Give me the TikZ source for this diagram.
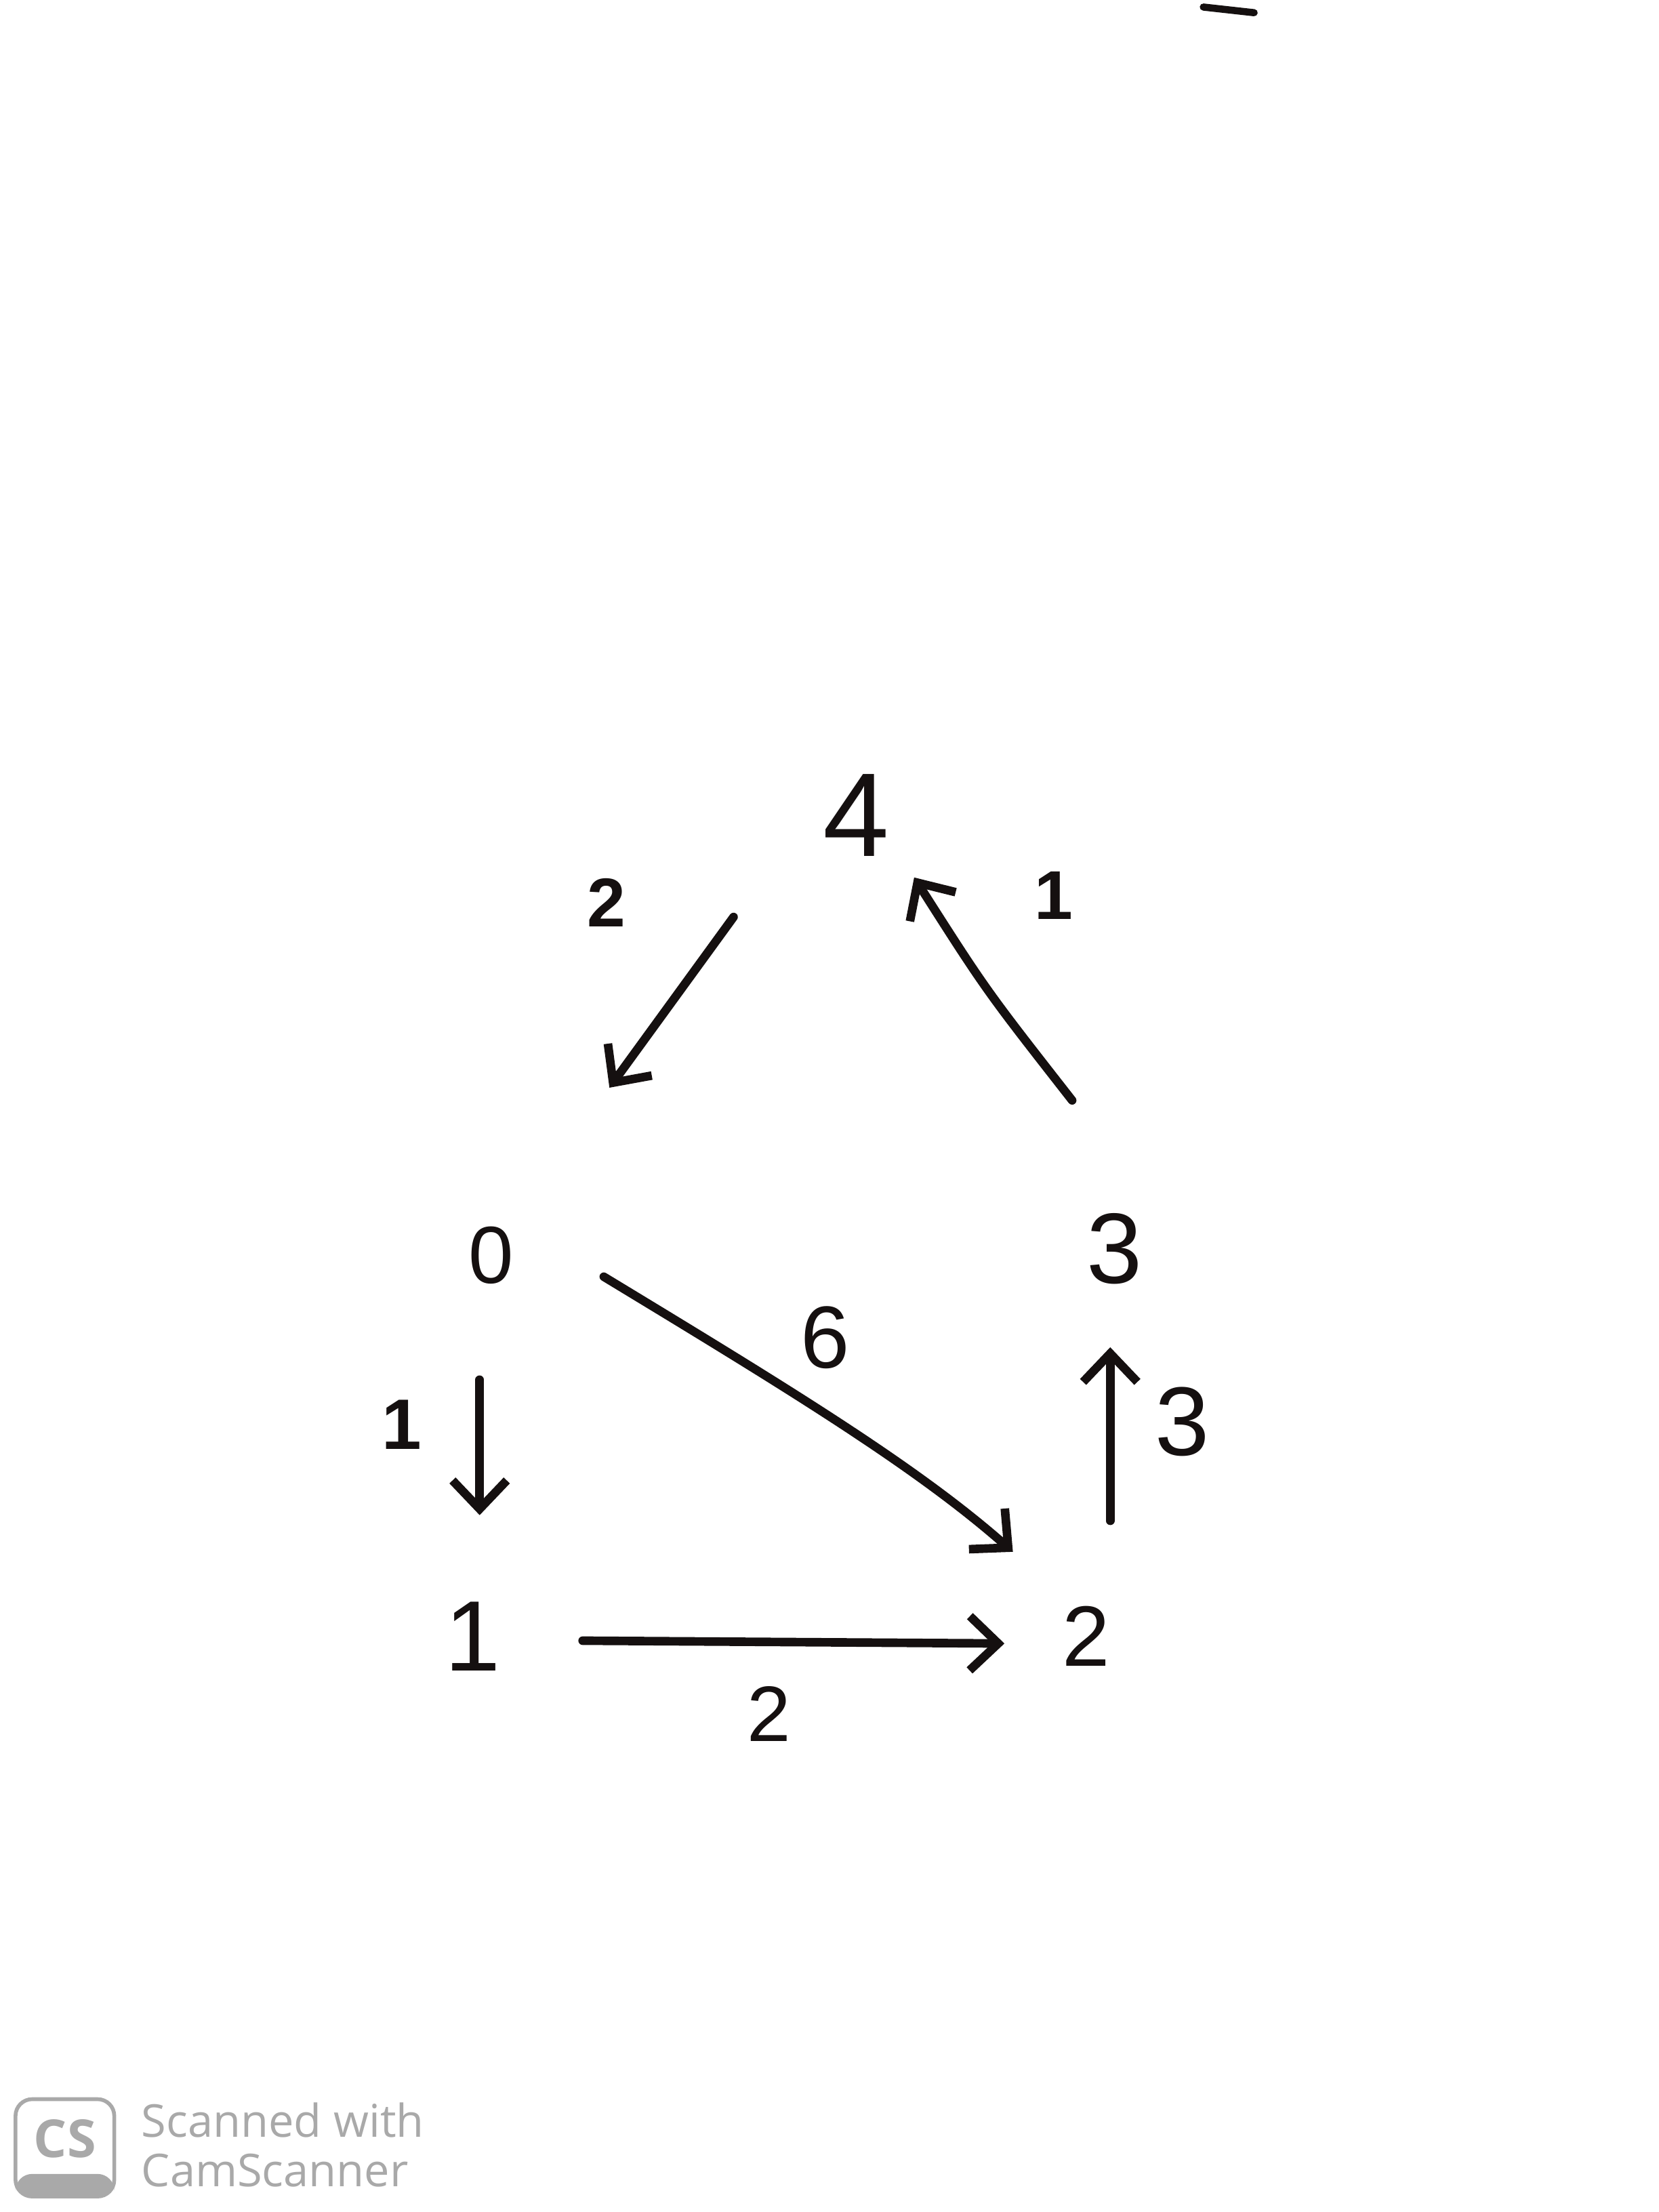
\documentclass[tikz,border=0pt]{standalone}
\usepackage{fontspec}
\setmainfont{Liberation Sans}
\newfontfamily\wmfont{Open Sans}
\usetikzlibrary{arrows.meta,calc}
\definecolor{wmgray}{HTML}{A9A9A9}
\definecolor{ink}{HTML}{151010}
\tikzset{
  vtx/.style={inner sep=0pt, text=ink, font=\fontsize{#1}{#1}\selectfont},
  wlab/.style={inner sep=0pt, text=ink, font=\fontsize{#1}{#1}\selectfont},
  wlabb/.style={inner sep=0pt, text=ink, font=\bfseries\fontsize{#1}{#1}\selectfont},
  arr/.style={draw=ink, line width=3.6pt, line cap=round, line join=round,
    -{Straight Barb[length=0.42cm,width=0.8cm,line width=3.6pt]}},
  wmtext/.style={inner sep=0pt, anchor=base west, text=wmgray, font=\wmfont\fontsize{19}{19}\selectfont}
}
\begin{document}
\begin{tikzpicture}[x=0.020816cm,y=-0.020816cm]
\useasboundingbox[fill=white] (0,0) rectangle (1176,1568);

% vertices
\node[vtx=50] (n4) at (607,578) {4};
\node[vtx=34] (n0) at (348,890) {0};
\node[vtx=42] (n3) at (790,885) {3};
\node[vtx=42] (n1) at (335,1160) {1};
\node[vtx=36] (n2) at (770,1160) {2};

% weights
\node[wlabb=29] (l40) at (430,640) {2};
\node[wlabb=29] (l34) at (747,635) {1};
\node[wlab=37] (l02) at (585,948) {6};
\node[wlabb=30] (l01) at (285,1010) {1};
\node[wlab=41] (l23) at (838,1008) {3};
\node[wlab=33] (l12) at (545,1215) {2};

% edges
\draw[arr] ($(n4)+(-87,72)$) -- ($(n0)+(84,-119)$);
\draw[arr] ($(n3)+(-30,-105)$) .. controls ($(n3)+(-91,-183)$) .. ($(n4)+(41,44)$);
\draw[arr] ($(n0)+(80,15)$) .. controls ($(n0)+(212,95)$) and ($(n2)+(-120,-120)$) .. ($(n2)+(-52,-60)$);
\draw[arr] ($(n0)+(-8,88)$) -- ($(n1)+(5,-86)$);
\draw[arr] ($(n1)+(78,3)$) -- ($(n2)+(-58,5)$);
\draw[arr] ($(n2)+(17,-82)$) -- ($(n3)+(-3,70)$);

% small mark at the top edge
\draw[ink, line width=3pt, line cap=round] (853,5) -- (889,9);

% scanner watermark
\draw[wmgray, line width=1.6pt, rounded corners=7] (11,1488) rectangle (81,1557);
\fill[wmgray, rounded corners=7] (11,1541) -- (11,1557) -- (81,1557) -- (81,1541) -- cycle;
\node[inner sep=0pt, text=wmgray, font=\wmfont\bfseries\fontsize{22}{22}\selectfont] (wmcs) at (46,1516) {CS};
\node[wmtext] (wm1) at (100,1515) {Scanned with};
\node[wmtext] (wm2) at (100,1550) {CamScanner};
\end{tikzpicture}
\end{document}
